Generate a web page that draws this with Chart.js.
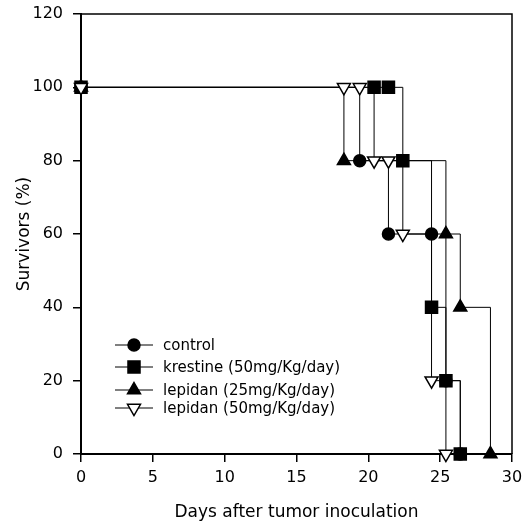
<!DOCTYPE html>
<html>
<head>
<meta charset="utf-8">
<script src="https://cdn.jsdelivr.net/npm/chart.js@4.4.0/dist/chart.umd.min.js"></script>
<style>
    html, body { margin: 0; padding: 0; background: #fff; }
</style>
</head>
<body>
<canvas id="survivalChart" width="531" height="526"></canvas>
<script>
// 数据 (days after inoculation, survivors %)
const seriesNames = ['control', 'krestine (50mg/Kg/day)', 'lepidan (25mg/Kg/day)', 'lepidan (50mg/Kg/day)'];

const controlDays = [0, 19.4, 21.4, 24.4, 25.4, 26.4];
const controlSurv = [100, 80, 60, 60, 20, 0];

const krestineDays = [0, 20.4, 21.4, 22.4, 24.4, 25.4, 26.4];
const krestineSurv = [100, 100, 100, 80, 40, 20, 0];

const lep25Days = [0, 18.3, 25.4, 26.4, 28.5];
const lep25Surv = [100, 80, 60, 40, 0];

const lep50Days = [0, 18.3, 19.4, 20.4, 21.4, 22.4, 24.4, 25.4];
const lep50Surv = [100, 100, 100, 80, 80, 60, 20, 0];

const xTicks = [0, 5, 10, 15, 20, 25, 30];
const yTicks = [0, 20, 40, 60, 80, 100, 120];

const toPoints = (days, surv) => days.map((d, i) => ({ x: d, y: surv[i] }));

const baseFont = 'DejaVu Sans';

// 样式
const markerStyles = [
    { pointStyle: 'circle', pointRadius: 6, pointRotation: 0, pointBackgroundColor: '#000' },
    { pointStyle: 'rect', pointRadius: 8.5, pointRotation: 0, pointBackgroundColor: '#000' },
    { pointStyle: 'triangle', pointRadius: 7.5, pointRotation: 0, pointBackgroundColor: '#000' },
    { pointStyle: 'triangle', pointRadius: 7.5, pointRotation: 180, pointBackgroundColor: '#fff' }
];

const allData = [
    toPoints(controlDays, controlSurv),
    toPoints(krestineDays, krestineSurv),
    toPoints(lep25Days, lep25Surv),
    toPoints(lep50Days, lep50Surv)
];

const datasets = allData.map((pts, i) => Object.assign({
    label: seriesNames[i],
    data: pts,
    stepped: 'before',
    borderColor: '#000',
    borderWidth: 1,
    pointBorderColor: '#000',
    pointBorderWidth: 1.5,
    pointHoverRadius: markerStyles[i].pointRadius,
    fill: false,
    clip: false,
    order: 4 - i
}, markerStyles[i]));

// 图框 + 图例
const framePlugin = {
    id: 'frame',
    afterDraw(chart) {
        const { ctx, chartArea: a } = chart;
        ctx.save();
        ctx.strokeStyle = '#000';
        ctx.lineWidth = 1.5;
        ctx.beginPath();
        ctx.moveTo(a.left, a.top);
        ctx.lineTo(a.right, a.top);
        ctx.lineTo(a.right, a.bottom);
        ctx.stroke();

        const rows = [345, 367, 390, 408];
        ctx.font = '15px "' + baseFont + '"';
        ctx.textBaseline = 'middle';
        ctx.fillStyle = '#000';
        datasets.forEach((ds, i) => {
            const y = rows[i];
            ctx.lineWidth = 1;
            ctx.strokeStyle = '#000';
            ctx.beginPath();
            ctx.moveTo(115, y);
            ctx.lineTo(153, y);
            ctx.stroke();
            ctx.fillStyle = ds.pointBackgroundColor;
            ctx.lineWidth = 1.5;
            Chart.helpers.drawPoint(ctx, {
                pointStyle: ds.pointStyle,
                rotation: ds.pointRotation,
                radius: ds.pointRadius,
                borderWidth: 1.5
            }, 134, y);
            ctx.fillStyle = '#000';
            ctx.fillText(ds.label, 163, y + 1);
        });
        ctx.restore();
    }
};

document.addEventListener('DOMContentLoaded', () => {
    const ctx = document.getElementById('survivalChart').getContext('2d');
    new Chart(ctx, {
        type: 'line',
        data: { datasets },
        options: {
            responsive: false,
            animation: false,
            layout: { padding: { left: 0, right: 19, top: 14, bottom: 0 } },
            plugins: {
                legend: { display: false },
                tooltip: { enabled: false }
            },
            scales: {
                x: {
                    type: 'linear',
                    min: 0,
                    max: 30,
                    afterFit(scale) { scale.height = 72; },
                    afterBuildTicks(scale) { scale.ticks = xTicks.map(v => ({ value: v })); },
                    border: { display: true, color: '#000', width: 2 },
                    grid: { display: true, drawOnChartArea: false, drawTicks: true, tickLength: 8, color: '#000', lineWidth: 1.5 },
                    ticks: { color: '#000', padding: 6, maxRotation: 0, font: { family: baseFont, size: 16 } },
                    title: {
                        display: true,
                        text: 'Days after tumor inoculation',
                        color: '#000',
                        padding: { top: 0, bottom: 3 },
                        font: { family: baseFont, size: 17 }
                    }
                },
                y: {
                    min: 0,
                    max: 120,
                    afterFit(scale) {
                        scale.width = 81;
                        scale.paddingTop = 0;
                        scale.paddingBottom = 0;
                    },
                    afterBuildTicks(scale) { scale.ticks = yTicks.map(v => ({ value: v })); },
                    border: { display: true, color: '#000', width: 2 },
                    grid: { display: true, drawOnChartArea: false, drawTicks: true, tickLength: 8, color: '#000', lineWidth: 1.5 },
                    ticks: { color: '#000', padding: 10, font: { family: baseFont, size: 16 } },
                    title: {
                        display: true,
                        text: 'Survivors (%)',
                        color: '#000',
                        padding: { top: 14, bottom: 0 },
                        font: { family: baseFont, size: 17 }
                    }
                }
            }
        },
        plugins: [framePlugin]
    });
});
</script>
</body>
</html>
